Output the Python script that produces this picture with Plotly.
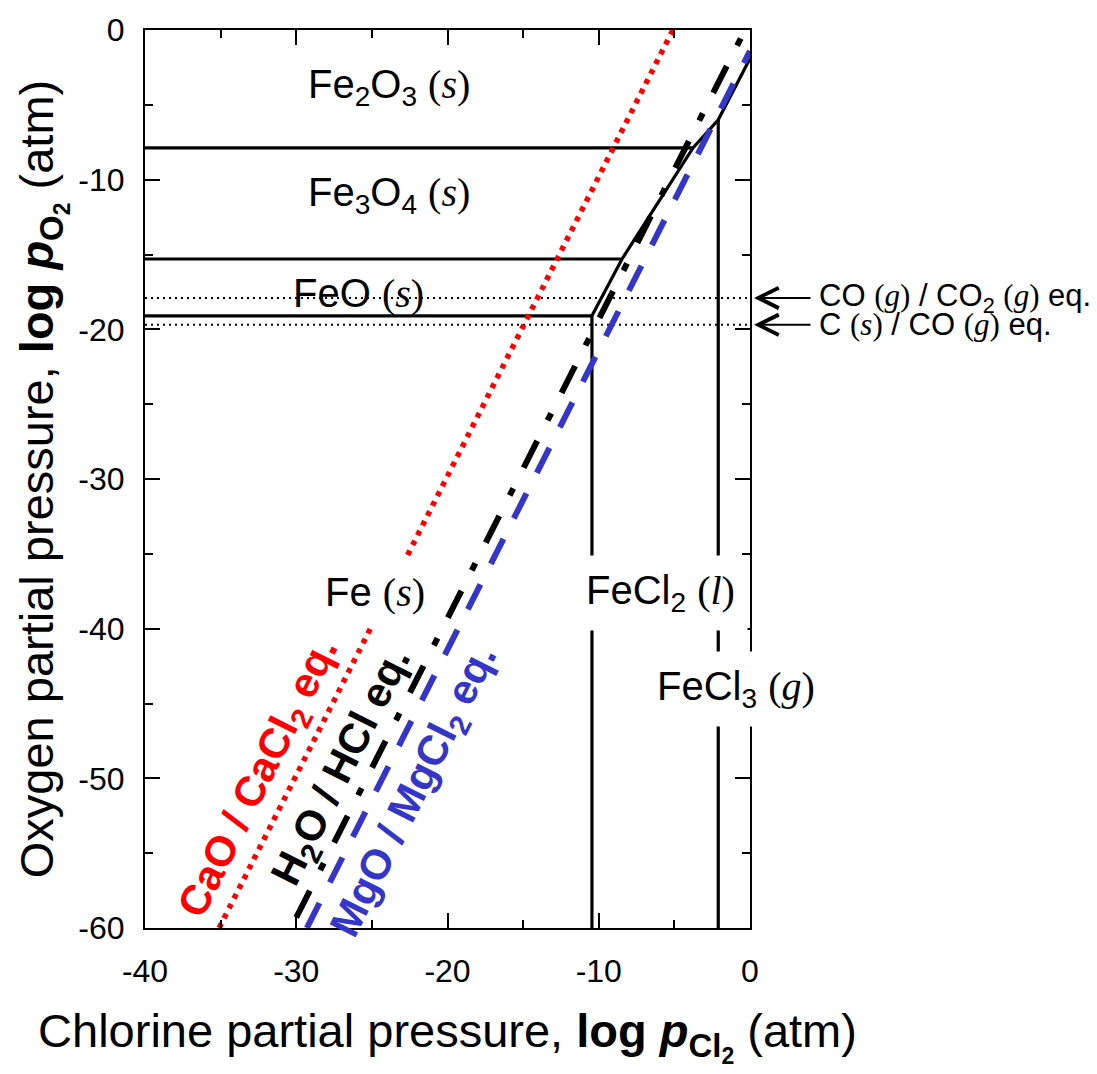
import plotly.graph_objects as go

# ---- data (log units, atm) ----
X_RANGE = [-40, 0]
Y_RANGE = [-60, 0]
X_TICKS = [-40, -30, -20, -10, 0]
X_TICKTEXT = ["-40", "-30", "-20", "-10", "0"]
Y_TICKS = [-60, -50, -40, -30, -20, -10, 0]
Y_TICKTEXT = ["-60", "-50", "-40", "-30", "-20", "-10", "0"]

# oxide / oxide boundaries (horizontal lines)
fe2o3_fe3o4_x = [-40, -3.77]
fe2o3_fe3o4_y = [-7.88, -7.88]
fe3o4_feo_x = [-40, -8.46]
fe3o4_feo_y = [-15.3, -15.3]
feo_fe_x = [-40, -10.45]
feo_fe_y = [-19.1, -19.1]

# oxide / chloride boundary
oxide_chloride_x = [-10.45, -8.46, -3.77, -2.1, 0.0]
oxide_chloride_y = [-19.1, -15.3, -7.88, -6.0, -1.9]

# chloride boundaries (vertical lines)
fe_fecl2_x = [-10.45, -10.45]
fe_fecl2_y = [-19.1, -60]
fecl2_fecl3_x = [-2.1, -2.1]
fecl2_fecl3_y = [-6.0, -60]

# gas equilibria (dotted horizontal)
co_co2_y = -17.9
c_co_y = -19.7

# reference equilibria
cao_x = [-35.1, -5.1]
cao_y = [-60, 0]
h2o_x = [-30.0, -0.33]
h2o_y = [-59.3, 0]
mgo_x = [-29.3, 0.0]
mgo_y = [-60, -1.4]

BLUE = "#3535c8"
RED = "#ff0000"
SANS = "Liberation Sans, Arial, sans-serif"

fig = go.Figure()

def add_line(x, y, color="black", width=3, dash="solid"):
    fig.add_trace(go.Scatter(x=x, y=y, mode="lines",
                             line=dict(color=color, width=width, dash=dash),
                             hoverinfo="skip", showlegend=False))

add_line([-40, 0], [co_co2_y, co_co2_y], width=2, dash="2px,4px")
add_line([-40, 0], [c_co_y, c_co_y], width=2, dash="2px,4px")

add_line(fe2o3_fe3o4_x, fe2o3_fe3o4_y, width=3.2)
add_line(fe3o4_feo_x, fe3o4_feo_y, width=3.2)
add_line(feo_fe_x, feo_fe_y, width=3.2)
add_line(oxide_chloride_x, oxide_chloride_y, width=3.2)
add_line(fe_fecl2_x, fe_fecl2_y, width=3.2)
add_line(fecl2_fecl3_x, fecl2_fecl3_y, width=3.2)

add_line(cao_x, cao_y, color=RED, width=5.5, dash="5px,6px")
add_line(h2o_x, h2o_y, color="black", width=6, dash="30px,23px,8px,23px")
add_line(mgo_x, mgo_y, color=BLUE, width=6, dash="28px,23px")

def ser(t):
    return "<span style=\"font-family:'Liberation Serif'\">(<i>%s</i>)</span>" % t

LBL = 40
labels = [
    (-23.9, -3.84, "Fe<sub>2</sub>O<sub>3</sub> " + ser("s"), False),
    (-23.9, -11.0, "Fe<sub>3</sub>O<sub>4</sub> " + ser("s"), False),
    (-25.9, -17.6, "FeO " + ser("s"), False),
    (-24.8, -37.6, "Fe " + ser("s"), True),
    (-5.95, -37.6, "FeCl<sub>2</sub> " + ser("l"), True),
    (-0.9, -44.0, "FeCl<sub>3</sub> " + ser("g"), True),
]
for x, y, t, bg in labels:
    fig.add_annotation(x=x, y=y, xref="x", yref="y", text=t, showarrow=False,
                       font=dict(family=SANS, size=LBL, color="black"),
                       bgcolor="white" if bg else "rgba(0,0,0,0)",
                       borderpad=12 if bg else 0)

# rotated equilibrium labels
rot = [
    (-32.4, -50.0, "CaO / CaCl<sub>2</sub> eq.", RED),
    (-26.9, -49.3, "H<sub>2</sub>O / HCl eq.", "black"),
    (-22.1, -50.9, "MgO / MgCl<sub>2</sub> eq.", BLUE),
]
for x, y, t, c in rot:
    fig.add_annotation(x=x, y=y, xref="x", yref="y", text="<b>%s</b>" % t,
                       showarrow=False, textangle=-63.4,
                       font=dict(family=SANS, size=42, color=c))

# arrows and right-hand notes
for yv, t in [(co_co2_y, "CO " + ser("g") + " / CO<sub>2</sub> " + ser("g") + " eq."),
              (c_co_y, "C " + ser("s") + " / CO " + ser("g") + " eq.")]:
    fig.add_annotation(x=0, y=yv, xref="x", yref="y", ax=62, ay=0, text="",
                       showarrow=True, arrowhead=5, arrowsize=2.0, arrowwidth=2,
                       arrowcolor="black", standoff=4)
    fig.add_annotation(x=1.111, y=yv, xref="paper", yref="y", text=t,
                       xanchor="left", showarrow=False,
                       font=dict(family=SANS, size=31, color="black"))

axis_common = dict(showgrid=False, zeroline=False, showline=True, linewidth=2,
                   linecolor="black", mirror="ticks", ticks="inside",
                   ticklen=15, tickwidth=1.5, tickcolor="black",
                   tickfont=dict(family=SANS, size=32, color="black"),
                   minor=dict(dtick=5, ticks="inside", ticklen=8, tickwidth=1.5,
                              tickcolor="black"))

fig.update_xaxes(range=X_RANGE, tickvals=X_TICKS, ticktext=X_TICKTEXT,
                 ticklabelstandoff=14,
                 title=dict(text="Chlorine partial pressure, <b>log <i>p</i><sub>Cl<sub>2</sub></sub></b> (atm)",
                            font=dict(family=SANS, size=47, color="black"),
                            standoff=26),
                 **axis_common)
fig.update_yaxes(range=Y_RANGE, tickvals=Y_TICKS, ticktext=Y_TICKTEXT,
                 ticklabelstandoff=12,
                 title=dict(text="Oxygen partial pressure, <b>log <i>p</i><sub>O<sub>2</sub></sub></b> (atm)",
                            font=dict(family=SANS, size=47, color="black"),
                            standoff=10),
                 **axis_common)

fig.update_layout(width=1097, height=1074,
                  margin=dict(l=145, r=347, t=22, b=146),
                  paper_bgcolor="white", plot_bgcolor="white",
                  showlegend=False)

fig.write_html("out.html")
